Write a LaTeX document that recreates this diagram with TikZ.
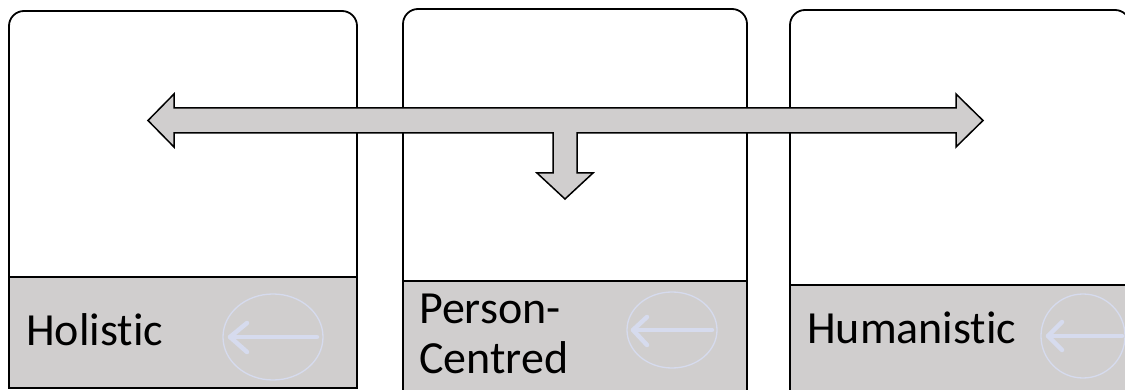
\documentclass[tikz,border=0pt]{standalone}
\usepackage{fontspec}
\setmainfont{Carlito}[Ligatures=NoCommon]
\usetikzlibrary{shapes.geometric}
\definecolor{labelgray}{RGB}{208,206,206}
\definecolor{iconblue}{RGB}{214,219,238}
\tikzset{
  panel/.style={draw=black, line width=1.8pt, fill=white, rounded corners=15pt,
    anchor=north west, inner sep=0pt, outer sep=0pt},
  labelbox/.style={draw=black, line width=1.8pt, fill=labelgray,
    anchor=north west, inner sep=0pt, outer sep=0pt},
  labeltext/.style={font=\fontsize{46}{50}\selectfont, text=black, inner sep=0pt,
    align=left},
  icon/.style={ellipse, draw=iconblue, line width=1.3pt, inner sep=0pt},
  iconarrow/.style={draw=iconblue, line width=4.5pt, line cap=round, line join=round},
  bigarrow/.style={draw=black, line width=1.5pt, fill=labelgray, line join=miter}
}
\begin{document}
\begin{tikzpicture}[x=1pt, y=-1pt]
\clip (0,0) rectangle (1125,390);
\fill[white] (0,0) rectangle (1125,390);

% three panels with rounded tops
\node[panel, minimum width=348pt, minimum height=377pt] (p1) at (9,11) {};
\node[panel, minimum width=344pt, minimum height=385pt] (p2) at (403,9) {};
\node[panel, minimum width=340pt, minimum height=385pt] (p3) at (790,10) {};

% shared T-shaped arrow linking the panels
\draw[bigarrow] (148,120.5) -- (174,94) -- (174,108) -- (956,108) -- (956,94)
  -- (983,120.5) -- (956,147) -- (956,133) -- (577,133) -- (577,173)
  -- (593,173) -- (565,199) -- (537,173) -- (553,173) -- (553,133)
  -- (174,133) -- (174,147) -- cycle;

% grey caption strips
\node[labelbox, minimum width=348pt, minimum height=111pt] (l1) at (9,277) {};
\node[labelbox, minimum width=344pt, minimum height=113pt] (l2) at (403,281) {};
\node[labelbox, minimum width=340pt, minimum height=109pt] (l3) at (790,285) {};

% captions (base anchor of a two-line node sits on its last line)
\node[labeltext, anchor=base west] (t1) at (26,345) {Holistic};
\node[labeltext, anchor=base west] (t2) at (419,373) {Person-\\Centred};
\node[labeltext, anchor=base west] (t3) at (807,343) {Humanistic};

% faint back-arrow icons
\node[icon, minimum width=100pt, minimum height=86pt] (i1) at (273,337) {};
\draw[iconarrow] (317,337) -- (230,337);
\draw[iconarrow] (247,323) -- (230,337) -- (247,352);

\node[icon, minimum width=90pt, minimum height=76pt] (i2) at (672,330) {};
\draw[iconarrow] (712,330) -- (633,330);
\draw[iconarrow] (647,317) -- (633,330) -- (647,345);

\node[icon, minimum width=84pt, minimum height=84pt] (i3) at (1083,336) {};
\draw[iconarrow] (1122,336) -- (1048,336);
\draw[iconarrow] (1062,322) -- (1048,336) -- (1062,350);
\end{tikzpicture}
\end{document}
